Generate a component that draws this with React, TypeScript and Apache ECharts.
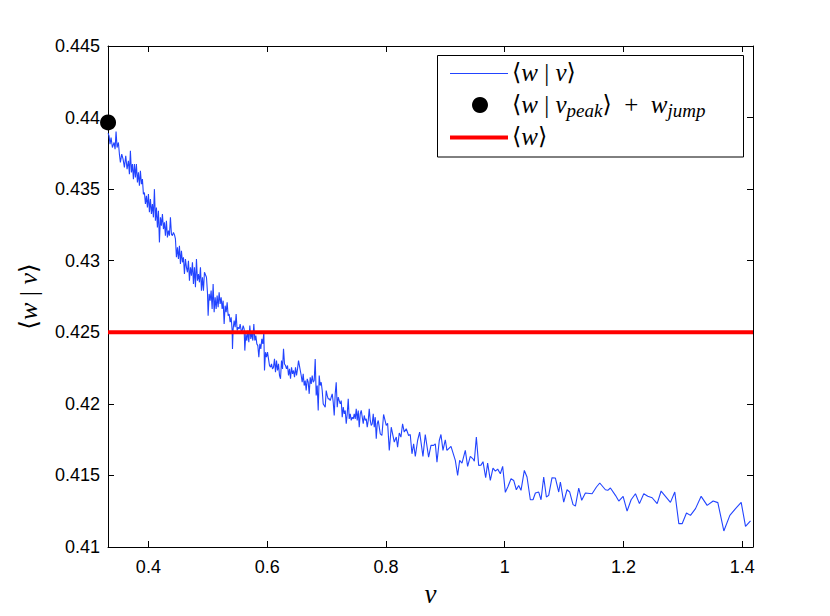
import React, { useEffect, useRef } from 'react';
import * as echarts from 'echarts';

const X_MIN = 0.332;
const X_MAX = 1.418;
const Y_MIN = 0.41;
const Y_MAX = 0.445;
const Y_STEP = 0.005;
const MEAN_W = 0.425;
const PEAK_POINT = [0.3321, 0.43966];

// <w|v> curve in five pieces (v, w)
const SEG_A = [
  [0.3321, 0.4389], [0.33378, 0.43872], [0.33546, 0.43814], [0.33715, 0.43861], [0.3394, 0.43791],
  [0.3422, 0.43826], [0.34389, 0.43779], [0.34557, 0.43903], [0.34726, 0.43791], [0.34951, 0.43826],
  [0.35119, 0.43745], [0.35288, 0.43686], [0.35512, 0.43745], [0.35737, 0.4371], [0.35962, 0.43652],
  [0.36186, 0.43733], [0.36411, 0.4364], [0.36635, 0.43698], [0.36804, 0.43605], [0.36972, 0.43768],
  [0.37141, 0.43617], [0.37309, 0.43675], [0.37478, 0.4357], [0.37646, 0.43675], [0.37815, 0.43582],
  [0.37983, 0.43675], [0.38152, 0.43547], [0.3832, 0.43617], [0.38489, 0.43524], [0.38657, 0.43628],
  [0.38826, 0.43535], [0.38994, 0.4357], [0.39162, 0.43465], [0.39331, 0.43477], [0.395, 0.43396],
  [0.39668, 0.43454], [0.39837, 0.43372], [0.40005, 0.43465], [0.40174, 0.43338], [0.40342, 0.43431],
  [0.40511, 0.43326], [0.40679, 0.43396], [0.40848, 0.43303], [0.41016, 0.435], [0.41185, 0.43279],
  [0.41353, 0.43372], [0.41521, 0.43233], [0.4169, 0.43349], [0.41858, 0.43128], [0.42027, 0.43303],
  [0.42195, 0.43245], [0.42364, 0.43326], [0.42532, 0.43221], [0.42701, 0.43268], [0.42869, 0.43175],
  [0.43038, 0.43279], [0.43206, 0.43163], [0.43375, 0.4321], [0.43543, 0.43175], [0.43712, 0.43303],
  [0.4388, 0.43186], [0.44049, 0.43175], [0.44217, 0.43198], [0.44386, 0.43182], [0.44554, 0.43152],
  [0.44723, 0.43024], [0.44891, 0.43093], [0.4506, 0.43012], [0.45228, 0.43105], [0.45397, 0.42977],
  [0.45565, 0.4307], [0.45734, 0.42989], [0.45902, 0.43024], [0.46071, 0.42907], [0.46239, 0.43012],
  [0.46408, 0.42954], [0.46576, 0.42919], [0.46745, 0.43], [0.46913, 0.42861], [0.47082, 0.42954],
  [0.4725, 0.42896], [0.47419, 0.42989], [0.47587, 0.42838], [0.47756, 0.42954], [0.47924, 0.42814],
  [0.48093, 0.43012], [0.48261, 0.42861], [0.4843, 0.42907], [0.48598, 0.42849], [0.48767, 0.42954],
  [0.48935, 0.42791], [0.49104, 0.42884], [0.49272, 0.42791], [0.49441, 0.42919],
];

const SEG_B = [
  [0.49778, 0.42884], [0.49947, 0.42779], [0.50059, 0.42616], [0.50227, 0.42768], [0.50396, 0.42721],
  [0.50564, 0.42791], [0.50733, 0.42663], [0.50901, 0.42837], [0.5107, 0.4264], [0.51238, 0.42744],
  [0.51407, 0.42663], [0.51575, 0.42756], [0.51744, 0.42675], [0.51912, 0.42779], [0.52081, 0.42698],
  [0.52249, 0.42744], [0.52418, 0.42663], [0.52586, 0.42721], [0.52755, 0.42558], [0.52923, 0.42686],
  [0.53092, 0.4264], [0.5326, 0.4271], [0.53429, 0.42616], [0.53597, 0.42628], [0.53766, 0.4257],
  [0.53934, 0.42605], [0.54103, 0.42512], [0.54159, 0.42384], [0.54271, 0.42523], [0.5444, 0.42582],
  [0.54608, 0.42535], [0.54777, 0.42628], [0.54945, 0.42512], [0.55113, 0.42535], [0.55282, 0.42523],
  [0.5545, 0.42558], [0.55619, 0.42512], [0.55787, 0.42512], [0.55956, 0.42547], [0.56124, 0.42523],
  [0.56236, 0.42372], [0.56405, 0.42489], [0.56573, 0.42442], [0.56742, 0.42512], [0.5691, 0.4243],
  [0.57079, 0.42547], [0.57247, 0.42454], [0.57416, 0.425], [0.57584, 0.42442], [0.57753, 0.42558],
  [0.57921, 0.42442], [0.5809, 0.42477], [0.58258, 0.42419], [0.58427, 0.42407], [0.58595, 0.42326],
  [0.58764, 0.42419], [0.58932, 0.42384], [0.59101, 0.42454], [0.59269, 0.42419], [0.59438, 0.425],
  [0.5955, 0.42233], [0.59718, 0.42361], [0.59887, 0.42326], [0.60055, 0.42361], [0.60224, 0.42314],
  [0.60392, 0.42268], [0.60561, 0.42256], [0.60729, 0.42279], [0.60898, 0.42244], [0.61066, 0.42256],
  [0.61235, 0.42314], [0.61403, 0.42221], [0.61572, 0.42302], [0.6174, 0.42233], [0.61909, 0.42279],
  [0.62077, 0.42198], [0.62246, 0.42175], [0.62414, 0.42302], [0.62583, 0.42244], [0.62751, 0.42384],
  [0.6292, 0.42279], [0.63088, 0.42268], [0.63257, 0.42244], [0.63425, 0.42268], [0.63594, 0.42198],
  [0.63762, 0.42244], [0.63931, 0.42175], [0.64099, 0.42256], [0.64268, 0.42209], [0.64436, 0.42233],
  [0.64605, 0.42186], [0.64773, 0.42256], [0.64942, 0.42198], [0.6511, 0.42244], [0.65279, 0.42302],
];

const SEG_C = [
  [0.65729, 0.42198], [0.65897, 0.42151], [0.66066, 0.4221], [0.66234, 0.42128], [0.66403, 0.42163],
  [0.66571, 0.42093], [0.6674, 0.42175], [0.66908, 0.42151], [0.67077, 0.4207], [0.67245, 0.42186],
  [0.67414, 0.4214], [0.67582, 0.42198], [0.67751, 0.42151], [0.67919, 0.42163], [0.68088, 0.42314],
  [0.68256, 0.42058], [0.68425, 0.42128], [0.68593, 0.41954], [0.68762, 0.42198], [0.6893, 0.42128],
  [0.69099, 0.42151], [0.69267, 0.42093], [0.69436, 0.42], [0.69604, 0.41989], [0.69773, 0.41977],
  [0.69941, 0.42093], [0.7011, 0.42058], [0.70278, 0.42035], [0.70447, 0.42035], [0.70615, 0.42023],
  [0.70784, 0.42047], [0.70952, 0.4207], [0.7112, 0.42012], [0.71289, 0.41919], [0.71457, 0.4207],
  [0.71626, 0.42151], [0.71794, 0.41977], [0.71963, 0.42047], [0.72131, 0.42023], [0.723, 0.42],
  [0.72468, 0.42023], [0.72637, 0.41907], [0.72805, 0.41977], [0.72974, 0.4193], [0.73142, 0.41954],
  [0.73311, 0.41861], [0.73479, 0.4193], [0.73648, 0.42035], [0.73816, 0.41895], [0.73985, 0.4193],
  [0.74153, 0.41884], [0.74322, 0.41907], [0.7449, 0.41895], [0.74659, 0.4193], [0.74827, 0.41895],
  [0.74996, 0.41965], [0.75164, 0.41884], [0.75333, 0.41954], [0.75501, 0.41837], [0.7567, 0.4193],
  [0.75838, 0.41954], [0.76007, 0.41907], [0.76175, 0.41861], [0.76344, 0.41919], [0.76512, 0.41884],
  [0.76681, 0.41895], [0.76849, 0.41837], [0.77018, 0.41884], [0.77186, 0.41965], [0.77355, 0.41884],
  [0.77523, 0.41849], [0.77692, 0.41861], [0.7786, 0.4193], [0.78029, 0.41837], [0.78197, 0.41907],
  [0.78366, 0.41756], [0.78534, 0.41861], [0.78703, 0.41884], [0.78871, 0.41837],
];

const SEG_D = [
  [0.7904, 0.41791], [0.7932, 0.41779], [0.796, 0.41926], [0.8005, 0.41849], [0.8028, 0.41865],
  [0.8056, 0.41675], [0.8089, 0.41837], [0.814, 0.41733], [0.8174, 0.41768], [0.8196, 0.41698],
  [0.8224, 0.41796], [0.8252, 0.41768], [0.828, 0.41861], [0.8308, 0.41803], [0.8342, 0.41826],
  [0.8381, 0.41779], [0.8409, 0.41786], [0.8438, 0.41651], [0.8466, 0.41721], [0.8494, 0.41633],
  [0.8533, 0.41744], [0.8567, 0.41803], [0.8623, 0.41633], [0.8662, 0.41786], [0.8718, 0.41628],
  [0.8758, 0.4171], [0.8803, 0.4171], [0.8831, 0.41721], [0.8859, 0.41593], [0.8898, 0.41744],
  [0.8926, 0.41786], [0.896, 0.41675], [0.8999, 0.41749], [0.9027, 0.41675], [0.9095, 0.41703],
  [0.9168, 0.41605], [0.9207, 0.415], [0.9241, 0.41605], [0.928, 0.41586], [0.9336, 0.41675],
  [0.9375, 0.41563], [0.942, 0.41633], [0.9465, 0.41616], [0.9488, 0.416], [0.9522, 0.41768],
  [0.9561, 0.4157], [0.96, 0.41572], [0.9634, 0.41596], [0.9679, 0.41484], [0.9712, 0.41586],
  [0.9757, 0.41465], [0.9802, 0.41551], [0.9842, 0.4153], [0.9881, 0.41544], [0.9926, 0.41512],
  [0.9965, 0.41563], [1.001, 0.41382], [1.0055, 0.41423], [1.0106, 0.41477], [1.0151, 0.41465],
  [1.0195, 0.414], [1.0235, 0.4143], [1.0274, 0.41396], [1.033, 0.41535], [1.0375, 0.41489],
  [1.0431, 0.4133], [1.0476, 0.4133], [1.0516, 0.41377], [1.0572, 0.41384], [1.0611, 0.4133],
  [1.0656, 0.41489], [1.0701, 0.41349], [1.074, 0.41361], [1.0796, 0.41484], [1.0853, 0.41482],
  [1.0909, 0.41384],
];

const SEG_E = [
  [1.0937, 0.41454], [1.0993, 0.41314], [1.1049, 0.414], [1.1094, 0.41384], [1.115, 0.41296],
  [1.119, 0.41286], [1.1246, 0.41412], [1.1296, 0.41326], [1.1358, 0.41377], [1.1471, 0.41372],
  [1.1544, 0.41419], [1.16, 0.41447], [1.1695, 0.414], [1.1735, 0.41396], [1.1779, 0.41412],
  [1.1864, 0.41361], [1.192, 0.41321], [1.1993, 0.41354], [1.206, 0.41251], [1.2128, 0.4133],
  [1.2201, 0.41372], [1.2268, 0.41303], [1.2341, 0.41372], [1.2409, 0.41354], [1.2482, 0.41344],
  [1.2566, 0.41303], [1.2633, 0.41391], [1.2706, 0.41354], [1.279, 0.41312], [1.2863, 0.41384],
  [1.2931, 0.41163], [1.2987, 0.41163], [1.306, 0.41237], [1.3127, 0.41221], [1.3212, 0.41268],
  [1.3307, 0.41354], [1.3408, 0.41291], [1.3509, 0.41321], [1.3588, 0.4131], [1.3689, 0.41112],
  [1.379, 0.41221], [1.3886, 0.41268], [1.3981, 0.41312], [1.4054, 0.41144], [1.4138, 0.41182],
];

const X_LABEL = 'v';
const BLUE = '#2244ff';
const MATH_FONT = "'Liberation Serif', 'DejaVu Serif', serif";
const BRACKET_FONT = "'DejaVu Serif', 'DejaVu Sans', serif";
const TICK_FONT = "'Liberation Sans', Arial, Helvetica, sans-serif";

function mathRich(size: number) {
  return {
    b: { fontFamily: BRACKET_FONT, fontSize: size * 0.95, lineHeight: size + 6, color: '#000' },
    p: { fontFamily: MATH_FONT, fontSize: size, lineHeight: size + 6, color: '#000' },
    i: { fontFamily: MATH_FONT, fontStyle: 'italic', fontSize: size, lineHeight: size + 6, color: '#000' },
    s: {
      fontFamily: MATH_FONT, fontStyle: 'italic', fontSize: Math.round(size * 0.74),
      lineHeight: Math.round(size * 0.5), verticalAlign: 'bottom', color: '#000',
    },
  };
}

const TXT_WV = '{b|⟨}{i|w}{p| | }{i|v}{b|⟩}';
const TXT_PEAK = '{b|⟨}{i|w}{p| | }{i|v}{s|peak}{b|⟩}{p|  +  }{i|w}{s|jump}';
const TXT_W = '{b|⟨}{i|w}{b|⟩}';

function fmt(v: number) {
  return String(parseFloat(v.toFixed(3)));
}

export default function App() {
  const ref = useRef<HTMLDivElement>(null);
  useEffect(() => {
    if (!ref.current) return;
    const chart = echarts.init(ref.current, null, { renderer: 'svg' });
    const curve = [...SEG_A, ...SEG_B, ...SEG_C, ...SEG_D, ...SEG_E];
    const axisCommon = {
      type: 'value',
      axisLine: { show: true, onZero: false, lineStyle: { color: '#000', width: 1 } },
      axisTick: { show: true, inside: true, length: 6, lineStyle: { color: '#000', width: 1 } },
      splitLine: { show: false },
    };
    chart.setOption({
      animation: false,
      backgroundColor: '#fff',
      grid: { left: 108, top: 46, right: 77, bottom: 69, containLabel: false },
      xAxis: [
        {
          ...axisCommon,
          position: 'bottom',
          min: X_MIN,
          max: X_MAX,
          axisLabel: {
            color: '#000', fontSize: 18, fontFamily: TICK_FONT, margin: 11,
            showMinLabel: false, showMaxLabel: false, formatter: fmt,
          },
          name: X_LABEL,
          nameLocation: 'middle',
          nameGap: 24,
          nameTextStyle: { fontFamily: MATH_FONT, fontStyle: 'italic', fontSize: 27, color: '#000' },
        },
        {
          ...axisCommon,
          position: 'top',
          min: X_MIN,
          max: X_MAX,
          axisLabel: { show: false },
        },
      ],
      yAxis: [
        {
          ...axisCommon,
          position: 'left',
          min: Y_MIN,
          max: Y_MAX,
          interval: Y_STEP,
          axisLabel: { color: '#000', fontSize: 18, fontFamily: TICK_FONT, margin: 8, formatter: fmt },
          name: TXT_WV,
          nameLocation: 'middle',
          nameRotate: 90,
          nameGap: 64,
          nameTextStyle: { rich: mathRich(26) },
        },
        {
          ...axisCommon,
          position: 'right',
          min: Y_MIN,
          max: Y_MAX,
          interval: Y_STEP,
          axisLabel: { show: false },
        },
      ],
      series: [
        {
          type: 'line',
          name: 'curve',
          data: curve,
          showSymbol: false,
          symbol: 'none',
          lineStyle: { color: BLUE, width: 1.1 },
          clip: true,
          z: 2,
        },
        {
          type: 'line',
          name: 'mean',
          data: [[X_MIN, MEAN_W], [X_MAX, MEAN_W]],
          symbol: 'none',
          lineStyle: { color: '#ff0000', width: 4 },
          z: 3,
        },
        {
          type: 'scatter',
          name: 'peak',
          data: [PEAK_POINT],
          symbol: 'circle',
          symbolSize: 16,
          itemStyle: { color: '#000', opacity: 1 },
          clip: false,
          z: 5,
        },
      ],
      graphic: [
        {
          type: 'rect', z: 100,
          shape: { x: 437.5, y: 55.5, width: 306, height: 101.5 },
          style: { fill: '#fff', stroke: '#000', lineWidth: 1 },
        },
        {
          type: 'line', z: 101,
          shape: { x1: 450, y1: 73.5, x2: 508, y2: 73.5 },
          style: { stroke: BLUE, lineWidth: 1 },
        },
        {
          type: 'circle', z: 101,
          shape: { cx: 480, cy: 105, r: 8 },
          style: { fill: '#000' },
        },
        {
          type: 'line', z: 101,
          shape: { x1: 450, y1: 137.5, x2: 508, y2: 137.5 },
          style: { stroke: '#ff0000', lineWidth: 4 },
        },
        {
          type: 'text', z: 101, x: 512, y: 72,
          style: { text: TXT_WV, rich: mathRich(25), verticalAlign: 'middle', align: 'left' },
        },
        {
          type: 'text', z: 101, x: 512, y: 104,
          style: { text: TXT_PEAK, rich: mathRich(25), verticalAlign: 'middle', align: 'left' },
        },
        {
          type: 'text', z: 101, x: 512, y: 136,
          style: { text: TXT_W, rich: mathRich(25), verticalAlign: 'middle', align: 'left' },
        },
      ],
    });
    return () => chart.dispose();
  }, []);
  return (
    <div
      ref={ref}
      style={{ position: 'fixed', left: 0, top: 0, width: 830, height: 616, background: '#fff' }}
    />
  );
}
